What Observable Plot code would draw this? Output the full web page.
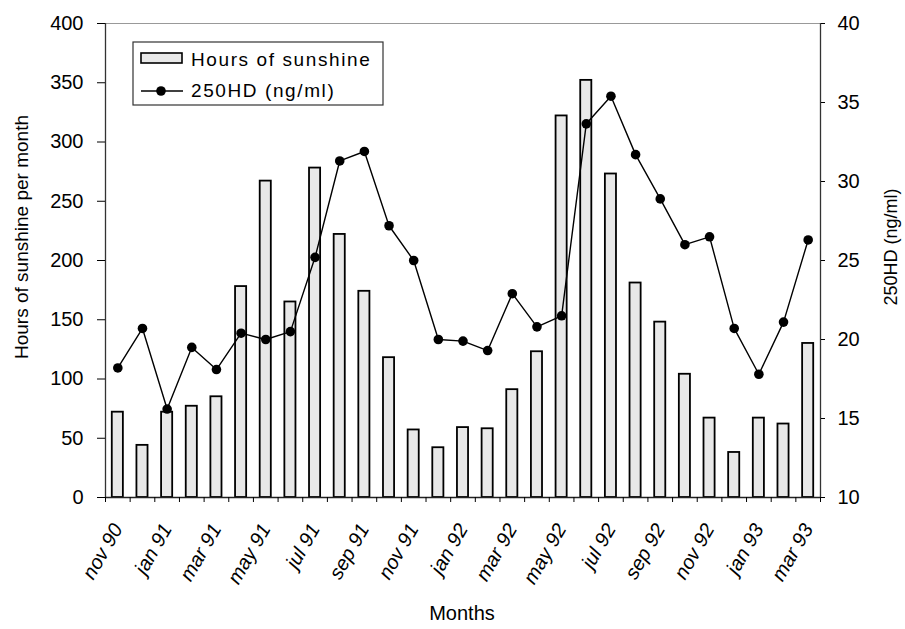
<!DOCTYPE html>
<html>
<head>
<meta charset="utf-8">
<script src="https://cdn.jsdelivr.net/npm/d3@7"></script>
<script src="https://cdn.jsdelivr.net/npm/@observablehq/plot@0.6"></script>
<style>
  html, body { margin: 0; padding: 0; background: white; }
  #chart { width: 905px; height: 629px; }
  g[aria-label="x-axis tick label"] text { font-style: italic; }
</style>
</head>
<body>
<div id="chart"></div>
<script>
// ---- data ----
const months = ["nov 90","dec 90","jan 91","feb 91","mar 91","apr 91","may 91","jun 91","jul 91","aug 91","sep 91","oct 91",
  "nov 91","dec 91","jan 92","feb 92","mar 92","apr 92","may 92","jun 92","jul 92","aug 92","sep 92","oct 92",
  "nov 92","dec 92","jan 93","feb 93","mar 93"];
const sunshine = [72,44,72,77,85,178,267,165,278,222,174,118,57,42,59,58,91,123,322,352,273,181,148,104,67,38,67,62,130];
const vitD = [18.2,20.7,15.6,19.5,18.1,20.4,20.0,20.5,25.2,31.3,31.9,27.2,25.0,20.0,19.9,19.3,22.9,20.8,21.5,33.65,35.4,31.7,28.9,26.0,26.5,20.7,17.8,21.1,26.3];
const leftTicks = [0,50,100,150,200,250,300,350,400];
const rightTicks = [10,15,20,25,30,35,40];
const leftDomain = [0, 400];
const rightDomain = [10, 40];

// map right-axis values into the left y scale
const toLeft = v => (v - rightDomain[0]) * (leftDomain[1] - leftDomain[0]) / (rightDomain[1] - rightDomain[0]) + leftDomain[0];
const fromLeft = y => (y - leftDomain[0]) * (rightDomain[1] - rightDomain[0]) / (leftDomain[1] - leftDomain[0]) + rightDomain[0];

const data = months.map((m, i) => ({i, month: m, sun: sunshine[i], vit: vitD[i]}));
const half = 0.225;

const chart = Plot.plot({
  width: 905,
  height: 629,
  marginLeft: 105,
  marginRight: 85,
  marginTop: 23,
  marginBottom: 132,
  style: {fontFamily: "'Liberation Sans', Arial, sans-serif", fontSize: "20px", background: "white", color: "black"},
  x: {type: "linear", domain: [-0.5, months.length - 0.5]},
  y: {domain: leftDomain},
  marks: [
    Plot.ruleY([leftDomain[1]], {stroke: "#999", strokeWidth: 1}),
    Plot.rectY(data, {x1: d => d.i - half, x2: d => d.i + half, y1: 0, y2: "sun", fill: "#e8e8e8", stroke: "black", strokeWidth: 1.8}),
    Plot.line(data, {x: "i", y: d => toLeft(d.vit), stroke: "black", strokeWidth: 1.4}),
    Plot.dot(data, {x: "i", y: d => toLeft(d.vit), r: 4.8, fill: "black", stroke: "none"}),
    Plot.ruleX([-0.5, months.length - 0.5], {stroke: "#333", strokeWidth: 1.3}),
    Plot.ruleY([leftDomain[0]], {stroke: "#222", strokeWidth: 1.3}),
    Plot.axisY({ticks: leftTicks, tickSize: 8, tickPadding: 14, label: null}),
    Plot.axisY({anchor: "right", ticks: rightTicks.map(toLeft), tickFormat: d => Math.round(fromLeft(d)), tickSize: 4, tickPadding: 13, label: null}),
    Plot.axisX({ticks: d3.range(-0.5, months.length, 1), tickFormat: () => "", tickSize: 5, label: null}),
    Plot.axisX({ticks: d3.range(0, months.length, 2), tickFormat: i => months[i], tickSize: 0, tickPadding: 28, tickRotate: -60, fontStyle: "italic", label: null})
  ]
});

document.getElementById("chart").appendChild(chart);

// titles and legend
const svg = d3.select(chart);
const font = "'Liberation Sans', Arial, sans-serif";
svg.append("text").attr("transform", "translate(28,237) rotate(-90)").attr("text-anchor", "middle")
  .attr("font-family", font).attr("font-size", 19).attr("fill", "black").text("Hours of sunshine per month");
svg.append("text").attr("transform", "translate(897,247) rotate(-90)").attr("text-anchor", "middle")
  .attr("font-family", font).attr("font-size", 18).attr("fill", "black").text("250HD (ng/ml)");
svg.append("text").attr("x", 462).attr("y", 620).attr("text-anchor", "middle")
  .attr("font-family", font).attr("font-size", 20).attr("fill", "black").text("Months");

const lg = svg.append("g").attr("font-family", font).attr("font-size", 19).attr("letter-spacing", 1.6).attr("text-anchor", "start");
lg.append("rect").attr("x", 133).attr("y", 42).attr("width", 250).attr("height", 63).attr("fill", "white").attr("stroke", "#333").attr("stroke-width", 1.2);
lg.append("rect").attr("x", 141).attr("y", 53).attr("width", 41).attr("height", 10).attr("fill", "#e8e8e8").attr("stroke", "black").attr("stroke-width", 1.6);
lg.append("text").attr("x", 191).attr("y", 66).attr("text-anchor", "start").attr("fill", "black").text("Hours of sunshine");
lg.append("line").attr("x1", 141).attr("x2", 183).attr("y1", 91).attr("y2", 91).attr("stroke", "black").attr("stroke-width", 1.4);
lg.append("circle").attr("cx", 161).attr("cy", 91).attr("r", 4.8).attr("fill", "black");
lg.append("text").attr("x", 191).attr("y", 97).attr("text-anchor", "start").attr("fill", "black").text("250HD (ng/ml)");
</script>
</body>
</html>
